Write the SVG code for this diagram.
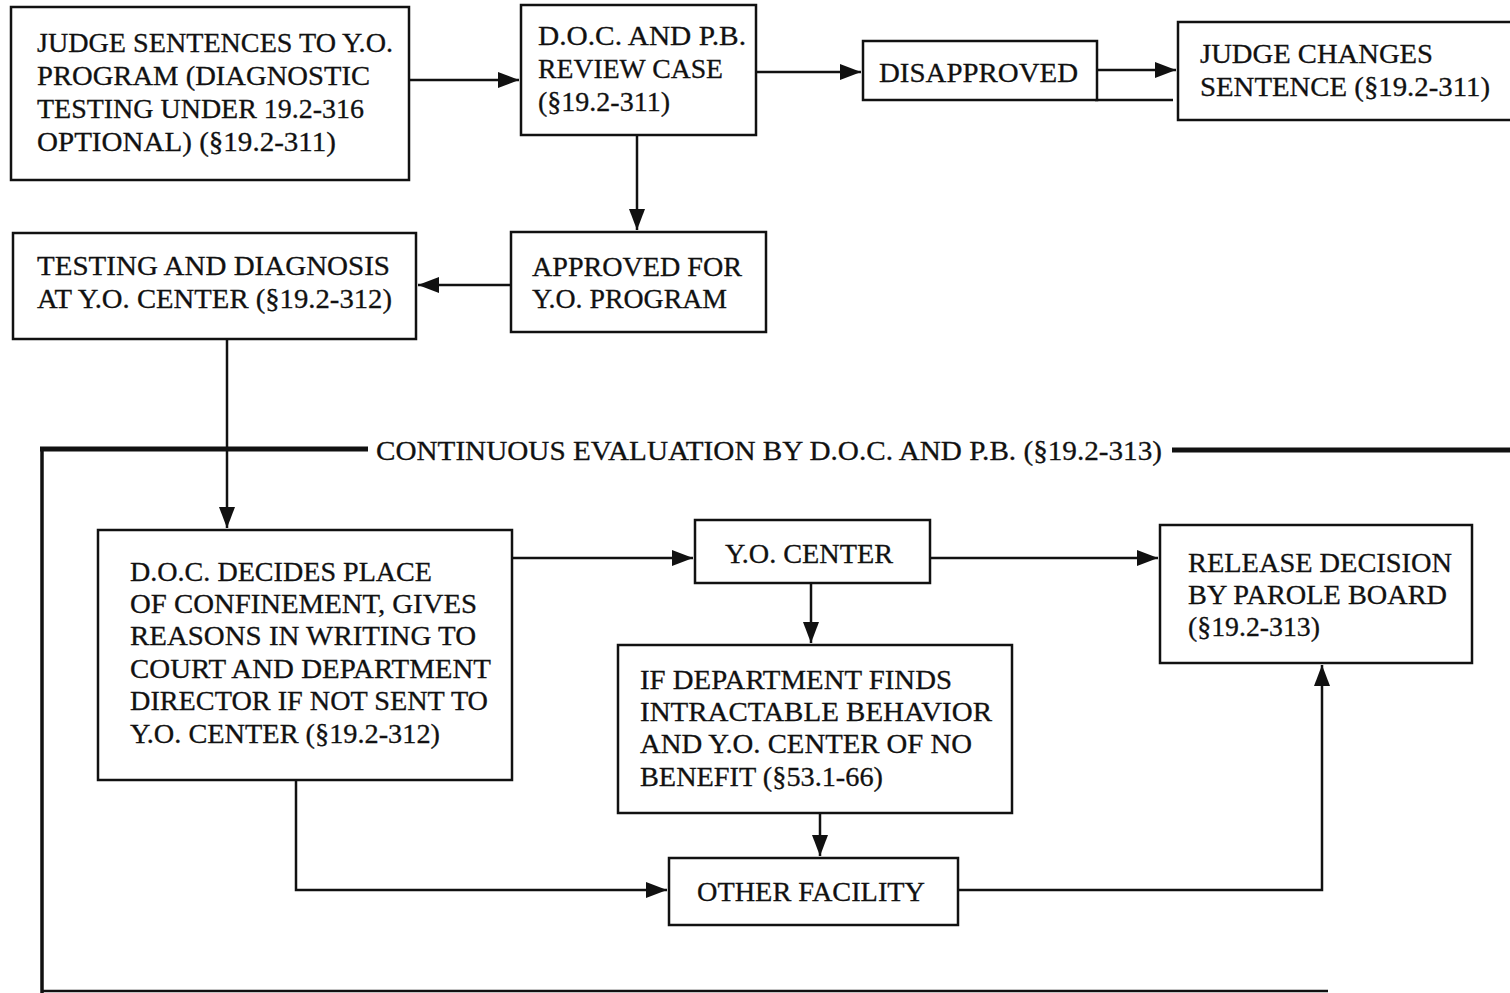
<svg xmlns="http://www.w3.org/2000/svg" width="1510" height="993" viewBox="0 0 1510 993">
<style>
.box{fill:#fff;stroke:#111;stroke-width:2.5}
.t{font-family:"Liberation Serif","Times New Roman",serif;font-size:28px;fill:#111;stroke:#111;stroke-width:0.3}
.c{fill:none;stroke:#111;stroke-width:2.5}
.eval{fill:none;stroke:#111;stroke-width:5}
</style>
<defs>
<marker id="ah" markerUnits="userSpaceOnUse" markerWidth="24" markerHeight="18" refX="21" refY="9" orient="auto">
<path d="M0,1 L21,9 L0,17 Z" fill="#111"/>
</marker>
</defs>
<rect width="1510" height="993" fill="#fff"/>
<g id="connectors">
<line class="c" x1="409" y1="80" x2="519" y2="80" marker-end="url(#ah)"/>
<line class="c" x1="756" y1="72" x2="861" y2="72" marker-end="url(#ah)"/>
<line class="c" x1="1097" y1="70" x2="1176" y2="70" marker-end="url(#ah)"/>
<line class="c" x1="1095" y1="100" x2="1173" y2="100"/>
<line class="c" x1="637" y1="135" x2="637" y2="230" marker-end="url(#ah)"/>
<line class="c" x1="511" y1="285" x2="418" y2="285" marker-end="url(#ah)"/>
<line class="c" x1="227" y1="339" x2="227" y2="528" marker-end="url(#ah)"/>
<line class="eval" x1="40" y1="449" x2="368" y2="449"/>
<line class="c" x1="42" y1="447" x2="42" y2="993" style="stroke-width:3.5"/>
<line class="eval" x1="1172" y1="450" x2="1510" y2="450"/>
<line class="c" x1="42" y1="991" x2="1328" y2="991"/>
<line class="c" x1="512" y1="558" x2="693" y2="558" marker-end="url(#ah)"/>
<line class="c" x1="930" y1="558" x2="1158" y2="558" marker-end="url(#ah)"/>
<line class="c" x1="811" y1="583" x2="811" y2="643" marker-end="url(#ah)"/>
<line class="c" x1="820" y1="813" x2="820" y2="856" marker-end="url(#ah)"/>
<polyline class="c" points="296,780 296,890 667,890" marker-end="url(#ah)"/>
<polyline class="c" points="958,890 1322,890 1322,665" marker-end="url(#ah)"/>
<text class="t" x="376" y="460" textLength="786" lengthAdjust="spacingAndGlyphs">CONTINUOUS EVALUATION BY D.O.C. AND P.B. (§19.2-313)</text>
</g>
<g id="judge-sentences">
<rect class="box" x="11" y="7" width="398" height="173"/>
<text class="t" x="37" y="52" textLength="356" lengthAdjust="spacingAndGlyphs">JUDGE SENTENCES TO Y.O.</text>
<text class="t" x="37" y="85" textLength="333" lengthAdjust="spacingAndGlyphs">PROGRAM (DIAGNOSTIC</text>
<text class="t" x="37" y="118" textLength="327" lengthAdjust="spacingAndGlyphs">TESTING UNDER 19.2-316</text>
<text class="t" x="37" y="151" textLength="299" lengthAdjust="spacingAndGlyphs">OPTIONAL) (§19.2-311)</text>
</g>
<g id="review-case">
<rect class="box" x="521" y="5" width="235" height="130"/>
<text class="t" x="538" y="45" textLength="208" lengthAdjust="spacingAndGlyphs">D.O.C. AND P.B.</text>
<text class="t" x="538" y="78" textLength="185" lengthAdjust="spacingAndGlyphs">REVIEW CASE</text>
<text class="t" x="538" y="111" textLength="132" lengthAdjust="spacingAndGlyphs">(§19.2-311)</text>
</g>
<g id="disapproved">
<rect class="box" x="863" y="41" width="234" height="59"/>
<text class="t" x="879" y="82" textLength="199" lengthAdjust="spacingAndGlyphs">DISAPPROVED</text>
</g>
<g id="judge-changes">
<rect class="box" x="1178" y="22" width="340" height="98"/>
<text class="t" x="1200" y="63" textLength="233" lengthAdjust="spacingAndGlyphs">JUDGE CHANGES</text>
<text class="t" x="1200" y="96" textLength="290" lengthAdjust="spacingAndGlyphs">SENTENCE (§19.2-311)</text>
</g>
<g id="approved">
<rect class="box" x="511" y="232" width="255" height="100"/>
<text class="t" x="532" y="276" textLength="210" lengthAdjust="spacingAndGlyphs">APPROVED FOR</text>
<text class="t" x="532" y="308" textLength="195" lengthAdjust="spacingAndGlyphs">Y.O. PROGRAM</text>
</g>
<g id="testing">
<rect class="box" x="13" y="233" width="403" height="106"/>
<text class="t" x="37" y="275" textLength="353" lengthAdjust="spacingAndGlyphs">TESTING AND DIAGNOSIS</text>
<text class="t" x="37" y="308" textLength="355" lengthAdjust="spacingAndGlyphs">AT Y.O. CENTER (§19.2-312)</text>
</g>
<g id="doc-decides">
<rect class="box" x="98" y="530" width="414" height="250"/>
<text class="t" x="130" y="581" textLength="302" lengthAdjust="spacingAndGlyphs">D.O.C. DECIDES PLACE</text>
<text class="t" x="130" y="613" textLength="347" lengthAdjust="spacingAndGlyphs">OF CONFINEMENT, GIVES</text>
<text class="t" x="130" y="645" textLength="346" lengthAdjust="spacingAndGlyphs">REASONS IN WRITING TO</text>
<text class="t" x="130" y="678" textLength="361" lengthAdjust="spacingAndGlyphs">COURT AND DEPARTMENT</text>
<text class="t" x="130" y="710" textLength="358" lengthAdjust="spacingAndGlyphs">DIRECTOR IF NOT SENT TO</text>
<text class="t" x="130" y="743" textLength="310" lengthAdjust="spacingAndGlyphs">Y.O. CENTER (§19.2-312)</text>
</g>
<g id="yo-center">
<rect class="box" x="695" y="520" width="235" height="63"/>
<text class="t" x="725" y="563" textLength="168" lengthAdjust="spacingAndGlyphs">Y.O. CENTER</text>
</g>
<g id="release">
<rect class="box" x="1160" y="525" width="312" height="138"/>
<text class="t" x="1188" y="572" textLength="264" lengthAdjust="spacingAndGlyphs">RELEASE DECISION</text>
<text class="t" x="1188" y="604" textLength="259" lengthAdjust="spacingAndGlyphs">BY PAROLE BOARD</text>
<text class="t" x="1188" y="636" textLength="132" lengthAdjust="spacingAndGlyphs">(§19.2-313)</text>
</g>
<g id="intractable">
<rect class="box" x="618" y="645" width="394" height="168"/>
<text class="t" x="640" y="689" textLength="312" lengthAdjust="spacingAndGlyphs">IF DEPARTMENT FINDS</text>
<text class="t" x="640" y="721" textLength="352" lengthAdjust="spacingAndGlyphs">INTRACTABLE BEHAVIOR</text>
<text class="t" x="640" y="753" textLength="332" lengthAdjust="spacingAndGlyphs">AND Y.O. CENTER OF NO</text>
<text class="t" x="640" y="786" textLength="243" lengthAdjust="spacingAndGlyphs">BENEFIT (§53.1-66)</text>
</g>
<g id="other-facility">
<rect class="box" x="669" y="858" width="289" height="67"/>
<text class="t" x="697" y="901" textLength="228" lengthAdjust="spacingAndGlyphs">OTHER FACILITY</text>
</g>
</svg>
